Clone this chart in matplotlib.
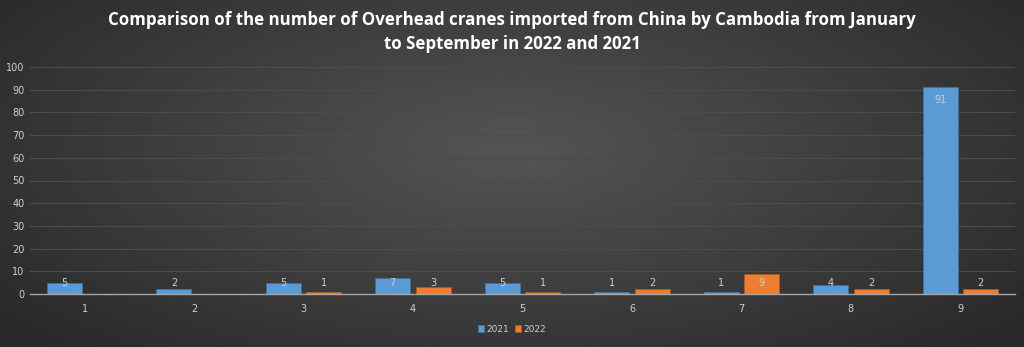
import numpy as np
import matplotlib
matplotlib.use("Agg")
import matplotlib.pyplot as plt

# Monthly imports (units); months 1-2 of 2022 have no record
months = ["1", "2", "3", "4", "5", "6", "7", "8", "9"]
imports_2021 = [5, 2, 5, 7, 5, 1, 1, 4, 91]
imports_2022 = [np.nan, np.nan, 1, 3, 1, 2, 9, 2, 2]

BLUE = "#5b9bd5"
ORANGE = "#ed7d31"
TEXT = "#d0d0d0"

fig = plt.figure(figsize=(10.24, 3.47), dpi=100)

# Radial gradient backdrop
bg = fig.add_axes([0, 0, 1, 1], zorder=-10)
yy, xx = np.mgrid[0:347, 0:1024]
r = np.sqrt(((xx - 512) / 620.0) ** 2 + ((yy - 150) / 260.0) ** 2)
shade = np.clip(0.33 - 0.16 * r, 0.16, 0.33)
bg.imshow(np.dstack([shade] * 3), aspect="auto", extent=[0, 1, 0, 1])
bg.axis("off")

ax = fig.add_axes([30 / 1024, 1 - 294 / 347, 985 / 1024, 227 / 347])
ax.set_facecolor("none")

x = np.arange(len(months))
w = 0.32
off = 0.185
ax.bar(x - off, imports_2021, w, color=BLUE, edgecolor="#41719c", linewidth=0.6,
       label="2021", zorder=3)
ax.bar(x + off, imports_2022, w, color=ORANGE, edgecolor="#ae5a21", linewidth=0.6,
       label="2022", zorder=3)

# Value labels near the top of each bar
for xs, vals in ((x - off, imports_2021), (x + off, imports_2022)):
    for xi, v in zip(xs, vals):
        if np.isnan(v):
            continue
        ax.text(xi, max(v - 5.5, 4.8), f"{v:g}", ha="center", va="center",
                fontsize=7, color=TEXT, zorder=4)

ax.set_xlim(-0.5, len(months) - 0.5)
ax.set_ylim(0, 100)
ax.set_yticks(range(0, 101, 10))
ax.set_xticks(x)
ax.set_xticklabels(months)
ax.tick_params(axis="both", length=0, labelsize=7, colors=TEXT)
ax.tick_params(axis="x", pad=7)
ax.tick_params(axis="y", pad=4)
ax.grid(axis="y", color="#4c4c4c", linewidth=0.8, zorder=0)
for s in ("top", "right", "left"):
    ax.spines[s].set_visible(False)
ax.spines["bottom"].set_color("#a6a6a6")
ax.spines["bottom"].set_linewidth(1.0)
ax.spines["bottom"].set_zorder(5)

fig.text(0.5, 1 - 32 / 347,
         "Comparison of the number of Overhead cranes imported from China by Cambodia from January\n"
         "to September in 2022 and 2021",
         ha="center", va="center", fontsize=12.2, fontweight="bold", color="white",
         family=["Liberation Sans Narrow", "Open Sans", "DejaVu Sans"], linespacing=1.45)

leg = fig.legend(loc="center", bbox_to_anchor=(0.5, 1 - 329 / 347), ncol=2, frameon=False,
                 fontsize=6.5, handlelength=0.7, handleheight=0.7, handletextpad=0.3,
                 columnspacing=0.6, labelcolor=TEXT)

fig.savefig("out.png", dpi=100)
